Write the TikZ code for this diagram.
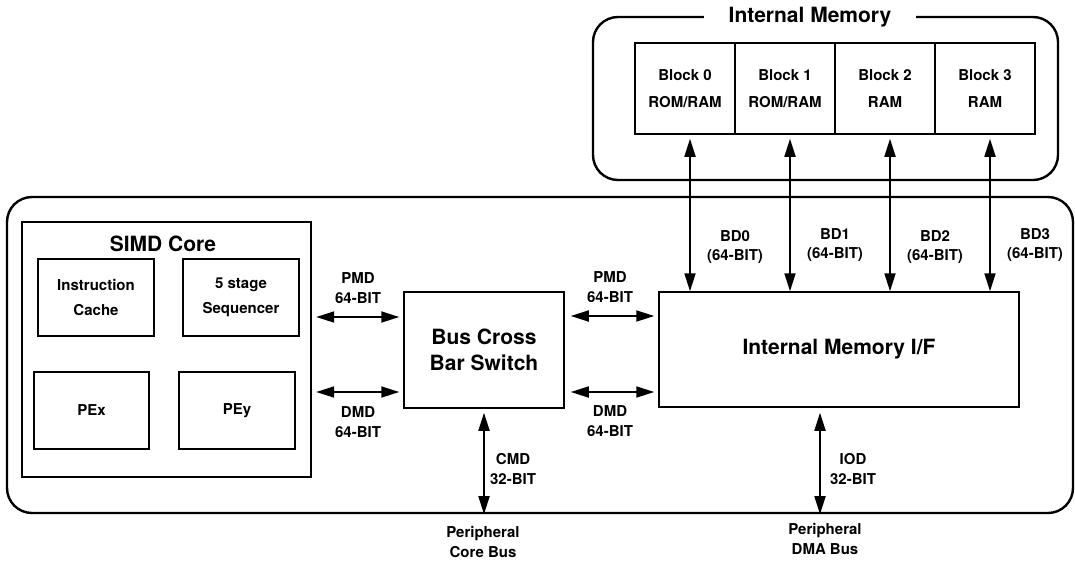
\documentclass[tikz,border=0pt]{standalone}
\usepackage{fontspec}
\setmainfont{TeX Gyre Heros}
\usetikzlibrary{positioning, arrows.meta, calc}

\begin{document}
\begin{tikzpicture}[x=1pt, y=-1pt,
        outer/.style={draw, line width=2.4pt, rounded corners=25pt, inner sep=0pt},
        unit/.style={draw, line width=1.5pt, inner sep=0pt, align=center, font=\fontsize{15}{25}\selectfont\bfseries},
        bigunit/.style={unit, font=\fontsize{21}{26}\selectfont\bfseries},
        bus/.style={{Triangle[length=18pt, width=11pt]}-{Triangle[length=18pt, width=11pt]}, line width=1.8pt},
        label/.style={align=center, inner sep=0pt, font=\fontsize{15}{19.5}\selectfont\bfseries}
    ]
        \useasboundingbox (0,0) rectangle (1075,560);

        % Internal memory (top right)
        \node[outer, minimum width=465, minimum height=163] (imem) at (825.5,98.5) {};
        \node[fill=white, inner xsep=25pt, inner ysep=2pt, font=\fontsize{21}{24}\selectfont\bfseries] (imem_label) at (810,17) {Internal Memory};
        \foreach \i/\txt in {0/ROM\slash RAM, 1/ROM\slash RAM, 2/RAM, 3/RAM} {
            \pgfmathsetmacro{\bx}{685+\i*100}
            \node[unit, minimum width=100, minimum height=91, font=\fontsize{15}{27}\selectfont\bfseries] (block\i) at (\bx, 88.5) {Block \i\\\txt};
        }

        % Main chip outline
        \node[outer, minimum width=1066, minimum height=316] (chip) at (540,355) {};

        % SIMD core
        \node[unit, line width=2.4pt, minimum width=289, minimum height=255] (simd) at (166.5,349.5) {};
        \node[label, font=\fontsize{21}{24}\selectfont\bfseries] (simd_label) at (163,244) {SIMD Core};
        \node[unit, minimum width=116, minimum height=77] (icache) at (96,297.5) {Instruction\\Cache};
        \node[unit, minimum width=116, minimum height=77] (seq) at (241,297.5) {5 stage\\Sequencer};
        \node[unit, minimum width=115, minimum height=77] (pex) at (91.5,410.5) {PEx};
        \node[unit, minimum width=116, minimum height=77] (pey) at (237,410.5) {PEy};

        % Cross bar and memory interface
        \node[bigunit, minimum width=160, minimum height=116] (xbar) at (484,350) {Bus Cross\\Bar Switch};
        \node[bigunit, minimum width=360, minimum height=115] (imif) at (839,349.5) {Internal Memory I/F};

        % Connections - core side
        \draw[bus, shorten <=4pt, shorten >=4pt] (simd.east |- 0,317) -- (xbar.west |- 0,317);
        \draw[bus, shorten <=4pt, shorten >=4pt] (simd.east |- 0,392) -- (xbar.west |- 0,392);
        \node[label] at (358,288) {PMD\\64-BIT};
        \node[label] at (358,422) {DMD\\64-BIT};

        % Connections - memory side
        \draw[bus, shorten <=6pt, shorten >=4pt] (xbar.east |- 0,316) -- (imif.west |- 0,316);
        \draw[bus, shorten <=6pt, shorten >=4pt] (xbar.east |- 0,392) -- (imif.west |- 0,392);
        \node[label] at (610,287) {PMD\\64-BIT};
        \node[label] at (610,421) {DMD\\64-BIT};

        % Block buses
        \foreach \i/\ly in {0/247, 1/245, 2/247, 3/245} {
            \draw[bus, shorten <=4pt] ([xshift=5pt]block\i.south) -- ([xshift=5pt]block\i.south |- imif.north);
            \node[label] at ([xshift=50pt]block\i.south |- 0,\ly) {BD\i\\(64-BIT)};
        }

        % Peripheral buses
        \draw[bus, shorten <=4pt] (xbar.south) -- (xbar.south |- chip.south);
        \node[label] at (513,469) {CMD\\32-BIT};
        \node[label] at (483,542) {Peripheral\\Core Bus};
        \draw[bus, shorten <=5pt] ([xshift=-19pt]imif.south) -- ([xshift=-19pt]imif.south |- chip.south);
        \node[label] at (853,469) {IOD\\32-BIT};
        \node[label] at (825,539) {Peripheral\\DMA Bus};
    \end{tikzpicture}
\end{document}
